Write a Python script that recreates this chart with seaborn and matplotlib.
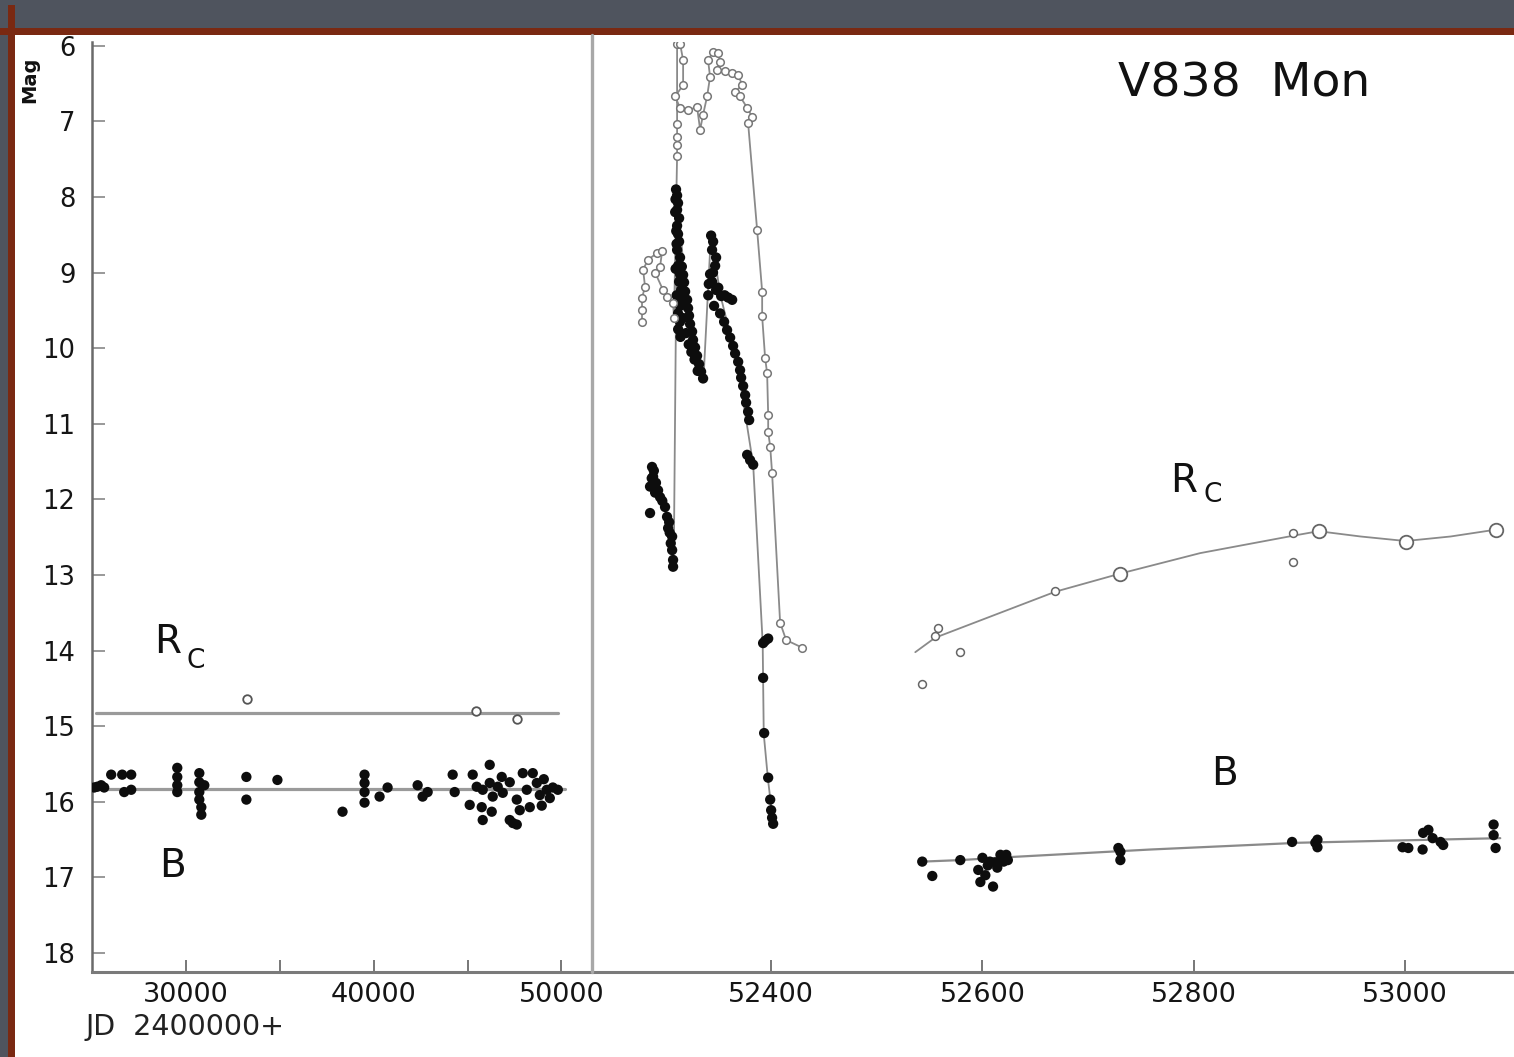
import matplotlib
matplotlib.use("Agg")
import matplotlib.pyplot as plt
from matplotlib.lines import Line2D
from matplotlib.patches import Rectangle
import seaborn as sns

# ---------------- archival photometry (JD - 2400000) ----------------
b_old_jd = [25115, 25275, 25488, 25648, 26022, 26608, 26715, 27088, 27088,
            29541, 29541, 29541, 29541,
            30715, 30715, 30981, 30715, 30715, 30821, 30821,
            33221, 33221, 34874, 38341,
            39514, 39514, 39514, 39514, 40314, 40741,
            42341, 42607, 42874, 44207, 44314,
            45114, 45274, 46180, 46180, 46340, 45807, 46820, 46874, 47247, 47620,
            47940, 48153, 48313, 48687, 48847, 49220, 49540, 45487, 46607, 47247,
            47620, 48473, 45754, 46287, 47780, 49807, 45807, 47414, 49060, 49380,
            48950]
b_old_mag = [15.81, 15.80, 15.78, 15.81, 15.64, 15.64, 15.87, 15.64, 15.84,
             15.55, 15.67, 15.78, 15.87,
             15.62, 15.74, 15.78, 15.87, 15.97, 16.07, 16.17,
             15.67, 15.97, 15.71, 16.13,
             15.64, 15.75, 15.87, 16.01, 15.93, 15.81,
             15.78, 15.93, 15.87, 15.64, 15.87,
             16.04, 15.64, 15.51, 15.75, 15.93, 15.84, 15.67, 15.88, 16.24, 16.30,
             15.62, 15.84, 16.07, 15.75, 15.91, 15.84, 15.81, 15.80, 15.80, 15.74,
             15.97, 15.62, 16.07, 16.13, 16.11, 15.84, 16.24, 16.28, 15.70, 15.95,
             16.05]
b_old_span = [25000, 50200]
b_old_mean = 15.83

rc_old_jd = [33274, 45434, 47620]
rc_old_mag = [14.64, 14.80, 14.90]
rc_old_span = [25200, 49800]
rc_old_mean = 14.82

# ---------------- 2002 outburst ----------------
rc_2002_jd = [52277.8, 52277.8, 52277.8, 52280.7, 52278.8, 52283.5, 52292.1, 52296.8,
              52294.9, 52290.2, 52297.7, 52301.5, 52307.2, 52308.1,
              52311.0, 52311.0, 52311.0, 52311.0, 52311.0, 52313.8, 52316.7, 52316.7,
              52309.1, 52313.8, 52321.4, 52329.9, 52332.8, 52335.6, 52339.4, 52342.2,
              52340.3, 52345.1, 52349.8, 52351.7, 52348.9, 52356.4, 52363.1, 52368.8,
              52372.5, 52365.9, 52370.6, 52377.3, 52382.0, 52378.2,
              52386.7, 52391.5, 52391.5, 52394.3, 52396.2, 52397.2, 52397.2, 52399.1,
              52400.9, 52408.5, 52414.2, 52429.4]
rc_2002_mag = [9.65, 9.49, 9.33, 9.19, 8.96, 8.83, 8.74, 8.72,
               8.92, 9.00, 9.23, 9.32, 9.40, 9.60,
               7.46, 7.31, 7.20, 7.04, 5.98, 5.97, 6.19, 6.52,
               6.67, 6.82, 6.85, 6.81, 7.11, 6.91, 6.67, 6.41,
               6.19, 6.08, 6.09, 6.21, 6.32, 6.34, 6.36, 6.38,
               6.52, 6.61, 6.67, 6.82, 6.94, 7.02,
               8.43, 9.25, 9.58, 10.13, 10.33, 10.88, 11.11, 11.30,
               11.65, 13.63, 13.86, 13.96]

b_2002_jd = [52287.3, 52288.3, 52285.4, 52290.2, 52294.9, 52285.4, 52299.6, 52301.5,
             52302.5, 52306.3, 52306.3, 52307.2, 52307.2, 52289.0, 52291.0, 52293.0,
             52297.0, 52304.0, 52305.0, 52287.0, 52303.5,
             52310.0, 52311.0, 52311.9, 52311.0, 52312.9, 52311.0, 52311.9, 52312.9,
             52311.0, 52313.8, 52311.9, 52313.8, 52312.9, 52314.8, 52312.9, 52313.8,
             52311.9, 52313.8, 52309.5, 52310.5, 52315.5, 52309.2, 52310.2, 52309.6,
             52310.6, 52312.0, 52314.2, 52315.8, 52316.2,
             52316.7, 52317.6, 52318.6, 52320.5, 52321.4, 52322.3, 52323.3, 52325.2,
             52326.1, 52328.0, 52329.9, 52331.8, 52333.7, 52335.6, 52319.5, 52322.0,
             52324.5, 52327.5, 52330.5,
             52343.2, 52345.1, 52344.1, 52347.9, 52347.0, 52342.2, 52344.1, 52347.9,
             52352.7, 52359.3, 52363.1, 52346.0, 52351.7, 52355.5, 52358.3, 52361.2,
             52364.0, 52365.9, 52368.8, 52370.6, 52371.6, 52373.5, 52375.4, 52376.3,
             52378.2, 52379.2, 52377.3, 52380.1, 52383.0, 52341.0, 52340.5, 52350.0,
             52356.0, 52345.0,
             52394.3, 52397.2, 52392.4, 52392.4, 52393.4, 52397.2, 52399.1, 52400.0,
             52400.9, 52401.9]
b_2002_mag = [11.57, 11.70, 11.83, 11.91, 11.97, 12.18, 12.10, 12.23,
              12.38, 12.49, 12.67, 12.80, 12.89, 11.62, 11.78, 11.88,
              12.02, 12.44, 12.58, 11.72, 12.30,
              7.90, 7.98, 8.08, 8.17, 8.28, 8.38, 8.49, 8.59,
              8.70, 8.80, 8.91, 9.02, 9.12, 9.23, 9.33, 9.44,
              9.54, 9.65, 8.03, 8.62, 8.92, 8.20, 8.45, 8.95,
              9.30, 9.75, 9.85, 9.40, 9.60,
              9.03, 9.13, 9.25, 9.36, 9.47, 9.57, 9.68, 9.78,
              9.89, 9.99, 10.10, 10.21, 10.31, 10.40, 9.80, 9.95,
              10.05, 10.15, 10.30,
              8.51, 8.59, 8.70, 8.80, 8.91, 9.02, 9.12, 9.23,
              9.31, 9.33, 9.36, 9.44, 9.54, 9.65, 9.76, 9.86,
              9.97, 10.07, 10.18, 10.29, 10.39, 10.50, 10.62, 10.72,
              10.84, 10.95, 11.41, 11.48, 11.54, 9.15, 9.30, 9.20,
              9.30, 9.00,
              13.87, 13.84, 13.90, 14.36, 15.09, 15.68, 15.97, 16.11,
              16.21, 16.29]
b_2002_curve_jd = [52286, 52300, 52308, 52311, 52318, 52336, 52343, 52352,
                   52368, 52383, 52392, 52393, 52397, 52402]
b_2002_curve_mag = [11.60, 12.10, 12.60, 7.90, 9.10, 10.40, 8.50, 9.30,
                    10.20, 11.54, 13.90, 15.10, 15.70, 16.29]

# ---------------- late-time monitoring ----------------
rc_late_jd = [52543, 52555, 52558, 52579, 52669, 52894, 52894]
rc_late_mag = [14.44, 13.80, 13.70, 14.02, 13.21, 12.83, 12.44]
rc_late_avg_jd = [52730.5, 52918, 53000.4, 53085.6]
rc_late_avg_mag = [12.98, 12.42, 12.56, 12.40]
rc_late_curve_jd = [52536.4, 52555, 52669, 52730.5, 52806, 52894, 52918, 52957.8,
                    53000.4, 53043, 53085.6]
rc_late_curve_mag = [14.02, 13.83, 13.22, 12.98, 12.71, 12.48, 12.42, 12.49,
                     12.55, 12.49, 12.40]

b_late_jd = [52543, 52552.5, 52579, 52596, 52598, 52600, 52602.7, 52607, 52610,
             52614, 52617, 52620, 52622.5, 52624, 52605, 52612, 52728.6, 52730.5,
             52730.5, 52893, 52915, 52917, 52917, 52997.5, 53003, 53016.5, 53017,
             53022, 53026, 53033.5, 53036, 53083.7, 53083.7, 53085.6]
b_late_mag = [16.79, 16.98, 16.77, 16.90, 17.06, 16.74, 16.97, 16.79, 17.12,
              16.87, 16.70, 16.79, 16.70, 16.77, 16.84, 16.80, 16.61, 16.66,
              16.77, 16.53, 16.54, 16.60, 16.50, 16.60, 16.61, 16.63, 16.41,
              16.37, 16.48, 16.53, 16.57, 16.30, 16.44, 16.61]
b_late_curve_jd = [52543, 52579, 52626, 52759, 52901, 53090]
b_late_curve_mag = [16.79, 16.77, 16.73, 16.63, 16.54, 16.48]

mag_ticks = list(range(6, 19))
left_ticks = [30000, 40000, 50000]
left_minor = [35000, 45000]
right_ticks = [52400, 52600, 52800, 53000]

# ---------------- figure ----------------
sns.set_theme(style="white")
plt.rcParams["font.family"] = ["DejaVu Sans"]

W, H = 1514, 1057
fig = plt.figure(figsize=(W / 100, H / 100), dpi=100)
fig.patch.set_facecolor("#4f545e")

# page and frame rules
fig.add_artist(Rectangle((15 / W, 0), 1, 1 - 35 / H, transform=fig.transFigure,
                         facecolor="white", edgecolor="none", zorder=-10))
fig.add_artist(Rectangle((0, 1 - 35 / H), 1, 7 / H, transform=fig.transFigure,
                         facecolor="#7a2912", edgecolor="none", zorder=-9))
fig.add_artist(Rectangle((8 / W, 0), 7 / W, 1 - 5 / H, transform=fig.transFigure,
                         facecolor="#7a2912", edgecolor="none", zorder=-9))

bottom = 1 - 972 / H
height = (972 - 42) / H
split = 591.5 / W
axL = fig.add_axes([92 / W, bottom, split - 92 / W, height])
axR = fig.add_axes([split, bottom, 1 - split, height])

line_gray = "#8a8a8a"
ink = "#0d0d0d"
dot = 55

# left panel: archival data and mean levels
sns.lineplot(x=rc_old_span, y=[rc_old_mean] * 2, ax=axL, color="#9a9a9a",
             linewidth=2.3, estimator=None, sort=False)
sns.lineplot(x=b_old_span, y=[b_old_mean] * 2, ax=axL, color="#9a9a9a",
             linewidth=2.3, estimator=None, sort=False)
sns.scatterplot(x=b_old_jd, y=b_old_mag, ax=axL, color=ink, s=dot,
                edgecolor="none", zorder=3)
sns.scatterplot(x=rc_old_jd, y=rc_old_mag, ax=axL, marker="o", s=38,
                color="white", edgecolor="#555555", linewidth=1.3, zorder=3)

# right panel: outburst and late-time light curves
sns.lineplot(x=b_2002_curve_jd, y=b_2002_curve_mag, ax=axR, color=line_gray,
             linewidth=1.3, estimator=None, sort=False)
sns.scatterplot(x=b_2002_jd, y=b_2002_mag, ax=axR, color=ink, s=dot,
                edgecolor="none", zorder=3)
sns.lineplot(x=rc_2002_jd, y=rc_2002_mag, ax=axR, color=line_gray,
             linewidth=1.3, estimator=None, sort=False)
sns.scatterplot(x=rc_2002_jd, y=rc_2002_mag, ax=axR, marker="o", s=30,
                color="white", edgecolor="#777777", linewidth=1.1, zorder=4)

sns.lineplot(x=rc_late_curve_jd, y=rc_late_curve_mag, ax=axR, color=line_gray,
             linewidth=1.3, estimator=None, sort=False)
sns.scatterplot(x=rc_late_jd, y=rc_late_mag, ax=axR, marker="o", s=32,
                color="white", edgecolor="#666666", linewidth=1.1, zorder=4)
sns.scatterplot(x=rc_late_avg_jd, y=rc_late_avg_mag, ax=axR, marker="o", s=95,
                color="white", edgecolor="#666666", linewidth=1.3, zorder=4)
sns.lineplot(x=b_late_curve_jd, y=b_late_curve_mag, ax=axR, color=line_gray,
             linewidth=1.6, estimator=None, sort=False)
sns.scatterplot(x=b_late_jd, y=b_late_mag, ax=axR, color=ink, s=dot,
                edgecolor="none", zorder=3)

# axes cosmetics
for ax in (axL, axR):
    ax.set_facecolor("none")
    ax.set_ylim(18.25, 5.95)
    ax.set_xlabel("")
    ax.set_ylabel("")
    for side in ("top", "right"):
        ax.spines[side].set_visible(False)
    ax.spines["bottom"].set_color("#7a7a7a")
    ax.spines["bottom"].set_linewidth(2.2)
    ax.tick_params(axis="x", which="both", bottom=True, direction="in",
                   length=9, width=1.4, color="#777777", labelsize=19.5,
                   labelcolor="#151515", pad=7)

axL.set_xlim(25000, 51600)
axL.set_xticks(left_ticks)
axL.set_xticks(left_minor, minor=True)
axL.set_yticks(mag_ticks)
axL.spines["left"].set_color("#6a6a6a")
axL.spines["left"].set_linewidth(1.8)
axL.tick_params(axis="y", left=True, direction="in", length=9, width=1.2,
                color="#888888", labelsize=18.5, labelcolor="#151515", pad=12)

axR.set_xlim(52230, 53103)
axR.set_xticks(right_ticks)
axR.set_yticks([])
axR.spines["left"].set_visible(False)

# panel divider
fig.add_artist(Line2D([split, split], [bottom, 1 - 35 / H], transform=fig.transFigure,
                      color="#a8a8a8", linewidth=2.4))

# band labels
label_kw = dict(ha="left", va="baseline", color="#111111")
axL.text(28315, 14.03, "R", fontsize=28, **label_kw)
axL.text(30021, 14.23, "C", fontsize=19, **label_kw)
axL.text(28581, 16.99, "B", fontsize=28, **label_kw)
axR.text(52778, 11.90, "R", fontsize=28, **label_kw)
axR.text(52809, 12.03, "C", fontsize=19, **label_kw)
axR.text(52816, 15.78, "B", fontsize=28, **label_kw)
axR.text(52728, 6.67, "V838  Mon", fontsize=34, **label_kw)

fig.text(30 / W, 1 - 80 / H, "Mag", rotation=90, fontsize=14, fontweight="bold",
         ha="center", va="center", color="#111111")
fig.text(85 / W, 1 - 1035 / H, "JD  2400000+", fontsize=20.5, ha="left",
         va="baseline", color="#222222")

fig.savefig("out.png", dpi=100, facecolor=fig.get_facecolor())
